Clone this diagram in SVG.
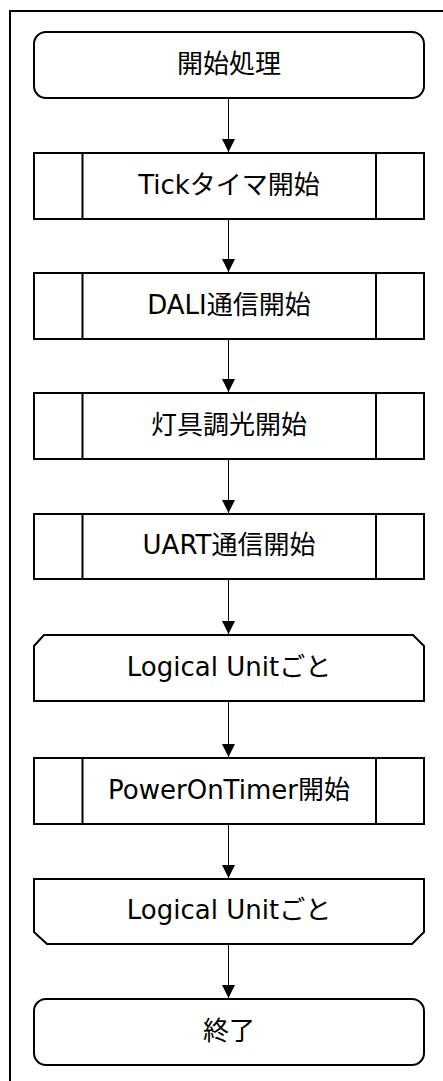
<svg xmlns="http://www.w3.org/2000/svg" width="443" height="1081" viewBox="0 0 443 1081">
<style>
.s{fill:#fff;stroke:#000;stroke-width:2}
.l{fill:none;stroke:#000;stroke-width:2}
.t{font-family:"DejaVu Sans","Noto Sans CJK JP",sans-serif;font-size:26px;fill:#000;text-anchor:middle;dominant-baseline:central}
.c{fill:none;stroke:#000;stroke-width:1}
</style>
<defs>
<marker id="ah" markerWidth="14" markerHeight="13" refX="13" refY="6.5" orient="auto" markerUnits="userSpaceOnUse">
<path d="M0,0 L13,6.5 L0,13 Z" fill="#000"/>
</marker>
</defs>
<rect x="10" y="11" width="450" height="1090" fill="#fff" stroke="#000" stroke-width="2"/>
<g id="connectors">
<line class="c" x1="228.5" y1="98" x2="228.5" y2="152" marker-end="url(#ah)"/>
<line class="c" x1="228.5" y1="219" x2="228.5" y2="272" marker-end="url(#ah)"/>
<line class="c" x1="228.5" y1="339" x2="228.5" y2="392" marker-end="url(#ah)"/>
<line class="c" x1="228.5" y1="459" x2="228.5" y2="513" marker-end="url(#ah)"/>
<line class="c" x1="228.5" y1="579" x2="228.5" y2="634" marker-end="url(#ah)"/>
<line class="c" x1="228.5" y1="701" x2="228.5" y2="757" marker-end="url(#ah)"/>
<line class="c" x1="228.5" y1="824" x2="228.5" y2="878" marker-end="url(#ah)"/>
<line class="c" x1="228.5" y1="944" x2="228.5" y2="998" marker-end="url(#ah)"/>
</g>
<g id="start">
<rect class="s" x="34" y="32" width="390" height="66" rx="12"/>
<text class="t" x="229" y="64">開始処理</text>
</g>
<g id="tick">
<rect class="s" x="34" y="153" width="390" height="66"/>
<path class="l" d="M82.5,153V219M376,153V219"/>
<text class="t" x="229" y="185">Tickタイマ開始</text>
</g>
<g id="dali">
<rect class="s" x="34" y="273" width="390" height="66"/>
<path class="l" d="M82.5,273V339M376,273V339"/>
<text class="t" x="229" y="305">DALI通信開始</text>
</g>
<g id="dimming">
<rect class="s" x="34" y="393" width="390" height="66"/>
<path class="l" d="M82.5,393V459M376,393V459"/>
<text class="t" x="229" y="425">灯具調光開始</text>
</g>
<g id="uart">
<rect class="s" x="34" y="514" width="390" height="65"/>
<path class="l" d="M82.5,514V579M376,514V579"/>
<text class="t" x="229" y="545">UART通信開始</text>
</g>
<g id="loopstart">
<path class="s" d="M44,635H413L424,646V701H34V646Z"/>
<text class="t" x="229" y="667">Logical Unitごと</text>
</g>
<g id="poweron">
<rect class="s" x="34" y="758" width="390" height="66"/>
<path class="l" d="M82.5,758V824M376,758V824"/>
<text class="t" x="229" y="790">PowerOnTimer開始</text>
</g>
<g id="loopend">
<path class="s" d="M34,879H424V932L412,944H47L34,932Z"/>
<text class="t" x="229" y="910">Logical Unitごと</text>
</g>
<g id="end">
<rect class="s" x="34" y="999" width="390" height="66" rx="12"/>
<text class="t" x="229" y="1031">終了</text>
</g>
</svg>
